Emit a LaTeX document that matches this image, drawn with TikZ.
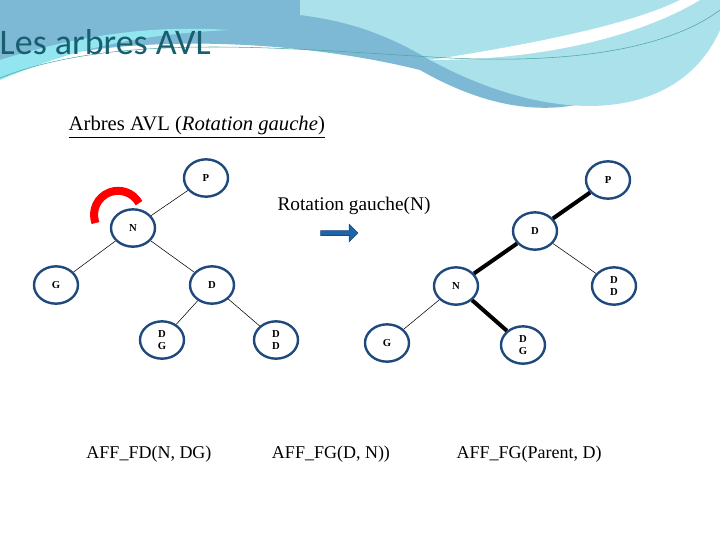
\documentclass[tikz,border=0pt]{standalone}
\usepackage{fontspec}
\setmainfont{Liberation Serif}
\newfontfamily\titlefont{Carlito}
\usepackage{xcolor}
\usetikzlibrary{positioning,shapes.geometric,shapes.arrows}
\definecolor{ringblue}{RGB}{31,73,125}
\definecolor{titleteal}{RGB}{23,94,110}
\definecolor{arrowblue}{RGB}{30,100,170}
\definecolor{swooshdark}{RGB}{125,185,212}
\definecolor{swooshlight}{RGB}{170,225,235}
\begin{document}
\begin{tikzpicture}[x=0.75pt,y=-0.75pt]
            \tikzstyle{state} = [ellipse, draw=ringblue, line width=1.8pt, minimum width=33pt, minimum height=28pt, inner sep=0pt, font=\footnotesize\bfseries, align=center];
            \tikzstyle{link} = [thin];
            \tikzstyle{moved} = [line width=3pt];
            \tikzstyle{caption} = [font=\fontsize{13.5}{16}\selectfont];
            \useasboundingbox (0,0) rectangle (720,540);
            % top decoration
            \fill[swooshdark] (0,0) -- (720,0) -- (720,10) .. controls (650,90) and (560,150) .. (420,70) .. controls (300,40) and (120,30) .. (0,70) -- cycle;
            \fill[swooshlight] (720,0) -- (720,30) .. controls (680,120) and (560,130) .. (430,60) .. controls (380,30) and (340,20) .. (300,15) -- (300,0) -- cycle;
            \fill[white] (700,0) .. controls (650,30) and (560,60) .. (430,60) .. controls (560,40) and (640,20) .. (680,0) -- cycle;
            \fill[swooshdark!60!cyan!60] (0,60) .. controls (80,35) and (150,25) .. (230,30) .. controls (120,35) and (60,55) .. (0,80) -- cycle;
            \draw[teal!70, thin] (0,78) .. controls (120,30) and (300,50) .. (450,58) .. controls (600,65) and (680,40) .. (720,10);
            \node[anchor=west, font=\titlefont\fontsize{27}{31}\selectfont, text=titleteal] (title) at (-5,42) {Les arbres AVL};
            \node[anchor=west, font=\fontsize{15.5}{19}\selectfont] (heading) at (64,127) {\underline{Arbres AVL (\textit{Rotation gauche})}};
            % tree before
            \node [state] (P1) at (206,178) {P};
            \node [state] (N1) at (133,228) {N};
            \node [state] (G1) at (56,285) {G};
            \node [state] (D1) at (212,285) {D};
            \node [state] (DG1) at (162,340) {D\\G};
            \node [state] (DD1) at (276,340) {D\\D};
            \draw [link] (P1) -- (N1);
            \draw [link] (N1) -- (G1);
            \draw [link] (N1) -- (D1);
            \draw [link] (D1) -- (DG1);
            \draw [link] (D1) -- (DD1);
            \draw [red, line width=6pt] (95.5,223) arc (160:331:24);
            % rotation
            \node[font=\fontsize{14.5}{17}\selectfont] (rot) at (354,206) {Rotation gauche(N)};
            \node [single arrow, fill=arrowblue, draw=ringblue, minimum height=28pt, minimum width=13pt, single arrow head extend=3pt, inner sep=1pt] (arrow) at (338,233) {};
            % tree after
            \node [state] (P2) at (608,180) {P};
            \node [state] (D2) at (535,231) {D};
            \node [state] (N2) at (456,286) {N};
            \node [state] (DD2) at (614,286) {D\\D};
            \node [state] (G2) at (387,343) {G};
            \node [state] (DG2) at (523,345) {D\\G};
            \draw [moved] (P2) -- (D2);
            \draw [moved] (D2) -- (N2);
            \draw [link] (D2) -- (DD2);
            \draw [link] (N2) -- (G2);
            \draw [moved] (N2) -- (DG2);
            % captions
            \node[caption] (c1) at (149,454) {AFF\_FD(N, DG)};
            \node[caption] (c2) at (331,454) {AFF\_FG(D, N))};
            \node[caption] (c3) at (529,454) {AFF\_FG(Parent, D)};
        \end{tikzpicture}
\end{document}
